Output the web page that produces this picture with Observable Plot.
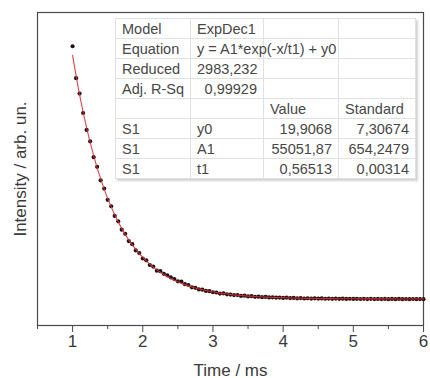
<!DOCTYPE html>
<html><head><meta charset="utf-8">
<script src="https://cdn.jsdelivr.net/npm/d3@7"></script>
<script src="https://cdn.jsdelivr.net/npm/@observablehq/plot@0.6"></script>
<style>
body{margin:0;background:#fff;}
#wrap{position:relative;width:430px;height:378px;font-family:"Liberation Sans",Arial,sans-serif;}
table.fit{position:absolute;left:115px;top:18px;width:300px;table-layout:fixed;border-collapse:collapse;font-size:14.5px;color:#474747;background:#fff;box-shadow:2px 2px 2px rgba(0,0,0,0.18);border:1px solid #a8a8a8;}
table.fit td{border:1px solid #e0e0e0;padding:0 6px;white-space:nowrap;overflow:visible;line-height:18px;}
table.fit tr{height:20px;}
table.fit td.r{text-align:right;}
</style>
</head><body>
<div id="wrap"></div>
<script>
// measured decay data (every 0.05 ms)
const time = [1.00,1.05,1.10,1.15,1.20,1.25,1.30,1.35,1.40,1.45,1.50,1.55,1.60,1.65,1.70,1.75,1.80,1.85,1.90,1.95,
  2.00,2.05,2.10,2.15,2.20,2.25,2.30,2.35,2.40,2.45,2.50,2.55,2.60,2.65,2.70,2.75,2.80,2.85,2.90,2.95,
  3.00,3.05,3.10,3.15,3.20,3.25,3.30,3.35,3.40,3.45,3.50,3.55,3.60,3.65,3.70,3.75,3.80,3.85,3.90,3.95,
  4.00,4.05,4.10,4.15,4.20,4.25,4.30,4.35,4.40,4.45,4.50,4.55,4.60,4.65,4.70,4.75,4.80,4.85,4.90,4.95,
  5.00,5.05,5.10,5.15,5.20,5.25,5.30,5.35,5.40,5.45,5.50,5.55,5.60,5.65,5.70,5.75,5.80,5.85,5.90,5.95,6.00];
const intensity = [9750,8520,7930,7180,6530,6090,5480,5110,4590,4270,3840,3590,3220,3010,2690,2530,2250,2130,1890,1790,
  1580,1510,1330,1270,1110,1090,990,930,850,790,700,690,590,560,470,450,390,380,330,320,
  280,270,230,240,200,190,170,175,140,150,120,130,105,110,90,100,80,85,70,75,
  60,70,55,60,45,55,40,50,38,45,35,42,30,38,28,35,26,33,25,30,
  22,28,20,27,18,26,17,25,16,24,15,23,14,22,15,21,13,20,14,19,15];
// ExpDec1 fit curve
const fitTime = [1.0,1.1,1.2,1.3,1.4,1.5,1.6,1.7,1.8,1.9,2.0,2.1,2.2,2.3,2.4,2.5,2.6,2.7,2.8,2.9,
  3.0,3.1,3.2,3.3,3.4,3.5,3.6,3.7,3.8,3.9,4.0,4.1,4.2,4.3,4.4,4.5,4.6,4.7,4.8,4.9,5.0,5.2,5.4,5.6,5.8,6.0];
const fitValue = [9402,7880,6606,5538,4643,3893,3265,2739,2298,1928,1619,1360,1142,960,808,680,573,483,408,345,
  292,248,211,180,154,132,114,99,86,75,66,59,53,47,43,39,36,33,31,29,28,25,24,23,22,21];
const majorTicks = [1,2,3,4,5,6];
const minorTicks = [0.5,1.5,2.5,3.5,4.5,5.5];
// fit report table
const tableRows = [
  ["Model","ExpDec1","",""],
  ["Equation","y = A1*exp(-x/t1) + y0","",""],
  ["Reduced","2983,232","",""],
  ["Adj. R-Sq","0,99929","",""],
  ["","","Value","Standard"],
  ["S1","y0","19,9068","7,30674"],
  ["S1","A1","55051,87","654,2479"],
  ["S1","t1","0,56513","0,00314"]
];

const data = time.map((t,i)=>({t, v:intensity[i]}));
const fit = fitTime.map((t,i)=>({t, v:fitValue[i]}));

const chart = Plot.plot({
  width: 430, height: 378,
  marginLeft: 37, marginRight: 7, marginTop: 12, marginBottom: 53,
  style: {fontFamily: "'Liberation Sans', Arial, sans-serif", fontSize: "17px", color: "#3a3a3a", background: "#fff"},
  x: {domain: [0.5, 6]},
  y: {domain: [-1000, 11050]},
  marks: [
    Plot.frame({stroke: "#4a4a4a", strokeWidth: 1.2}),
    Plot.axisY({ticks: [], tickSize: 0, label: "Intensity / arb. un.", labelAnchor: "center", labelOffset: 24, labelArrow: "none"}),
    Plot.axisX({ticks: minorTicks, tickSize: 4, text: null, label: null, stroke: "#4a4a4a"}),
    Plot.axisX({ticks: majorTicks, tickSize: 7, tickPadding: 2, tickFormat: d => String(d), stroke: "#4a4a4a", label: "Time / ms", labelAnchor: "center", labelOffset: 50, labelArrow: "none"}),
    Plot.dot(data, {x: "t", y: "v", r: 2.1, fill: "#241010", stroke: "none"}),
    Plot.line(fit, {x: "t", y: "v", stroke: "#d8303a", strokeWidth: 1.1, strokeOpacity: 0.9, curve: "catmull-rom"})
  ]
});
const wrap = document.getElementById("wrap");
wrap.appendChild(chart);

const tbl = document.createElement("table");
tbl.className = "fit";
const cg = document.createElement("colgroup");
[75,73,75,77].forEach(w => { const c = document.createElement("col"); c.style.width = w + "px"; cg.appendChild(c); });
tbl.appendChild(cg);
tableRows.forEach((row, ri) => {
  const tr = document.createElement("tr");
  row.forEach((cell, ci) => {
    const td = document.createElement("td");
    td.textContent = cell;
    if ((ri >= 5 && ci >= 2) || (ri === 2 || ri === 3) && ci === 1) td.className = "r";
    tr.appendChild(td);
  });
  tbl.appendChild(tr);
});
wrap.appendChild(tbl);
</script>
</body></html>
